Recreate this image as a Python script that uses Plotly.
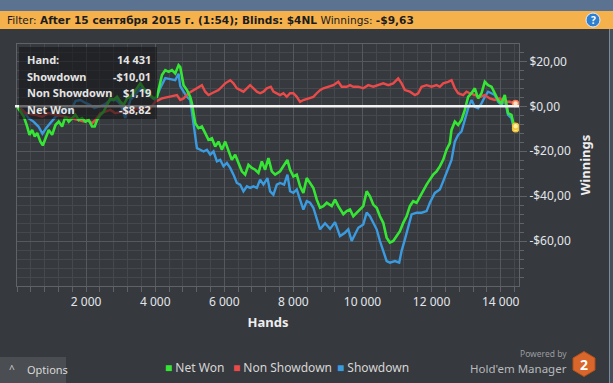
import plotly.graph_objects as go

# ---------------- data ----------------
net_hands = [0, 101, 197, 295, 361, 439, 514, 584, 679, 746, 824, 919, 1017, 1113, 1208, 1306, 1402, 1497,
             1595, 1691, 1786, 1884, 1980, 2075, 2173, 2248, 2318, 2413, 2509, 2607, 2702, 2798, 2896, 2991,
             3087, 3185, 3280, 3376, 3474, 3569, 3665, 3763, 3858, 3954, 4052, 4118, 4196, 4292, 4387, 4485,
             4581, 4676, 4725, 4821, 4919, 5014, 5063, 5110, 5159, 5254, 5352, 5448, 5543, 5641, 5737, 5832,
             5930, 6026, 6121, 6219, 6315, 6410, 6508, 6604, 6699, 6797, 6893, 6988, 7086, 7182, 7277, 7375,
             7471, 7615, 7711, 7826, 7904, 8000, 8098, 8193, 8289, 8387, 8482, 8578, 8676, 8771, 8867, 8965,
             9109, 9205, 9300, 9445, 9543, 9638, 9734, 9832, 9927, 10023, 10121, 10216, 10312, 10410, 10505,
             10601, 10699, 10794, 10890, 10988, 11083, 11179, 11277, 11372, 11468, 11566, 11661, 11757, 11855,
             11950, 12046, 12144, 12239, 12335, 12433, 12528, 12577, 12673, 12768, 12866, 12962, 13057, 13155,
             13251, 13346, 13444, 13540, 13635, 13733, 13829, 13924, 14022, 14118, 14213, 14311, 14378, 14431]
net_won = [0, -2.4, -4.6, -9.0, -12.7, -10.5, -13.4, -11.9, -15.7, -17.4, -14.2, -10.5, -12.7, -8.3, -6.8,
           -9.0, -4.6, -6.8, -5.3, -3.8, -6.1, -5.3, -6.8, -6.1, -9.0, -9.0, -6.1, -3.8, -2.4, 0.6, 3.5, 2.8,
           4.2, 2.0, 0.6, 3.5, 4.2, 5.8, 8.0, 10.2, 8.0, 6.5, 5.0, 3.5, 4.2, 8.7, 13.9, 16.1, 15.3, 16.1, 14.6,
           18.3, 17.4, 9.4, 7.2, 4.2, 1.3, -3.1, -7.5, -9.7, -9.0, -11.9, -14.9, -14.2, -17.9, -15.7, -19.3,
           -15.7, -19.3, -23.8, -21.5, -25.2, -28.9, -30.4, -26.0, -27.4, -28.2, -29.6, -24.5, -28.2, -23.0,
           -28.9, -30.4, -28.9, -26.7, -23.8, -28.2, -31.2, -30.4, -35.6, -38.5, -31.9, -34.1, -36.3, -41.5,
           -45.1, -44.4, -42.9, -44.4, -41.5, -44.4, -48.0, -46.6, -45.9, -48.9, -47.4, -45.9, -44.4, -37.8,
           -40.0, -43.7, -45.1, -48.9, -51.8, -58.4, -60.6, -59.9, -57.7, -55.5, -51.8, -48.9, -44.4, -42.2,
           -42.9, -40.0, -37.8, -34.8, -32.6, -30.4, -28.9, -26.7, -23.8, -19.3, -16.4, -10.5, -6.8, -8.3,
           -6.1, -1.6, 4.2, 5.8, 8.0, 3.5, 5.8, 10.9, 9.4, 8.7, 5.8, 2.8, 1.3, 5.0, -3.1, -3.8, -8.3, -8.82]

nsd_hands = [0, 246, 535, 728, 919, 1113, 1402, 1595, 1786, 1931, 2029, 2173, 2269, 2413, 2558, 2702, 2847,
             3040, 3231, 3425, 3569, 3714, 3858, 4003, 4196, 4341, 4485, 4630, 4725, 4821, 4965, 5110, 5254,
             5352, 5448, 5543, 5641, 5737, 5832, 5930, 6026, 6170, 6266, 6364, 6459, 6555, 6653, 6748, 6844,
             6942, 7037, 7133, 7231, 7346, 7422, 7520, 7615, 7711, 7809, 7904, 8000, 8098, 8193, 8289, 8433,
             8578, 8676, 8771, 8867, 9011, 9156, 9300, 9398, 9543, 9638, 9734, 9878, 10023, 10167, 10312,
             10456, 10601, 10745, 10890, 11034, 11132, 11228, 11372, 11517, 11612, 11710, 11855, 11999, 12144,
             12239, 12335, 12479, 12577, 12673, 12768, 12913, 13011, 13106, 13251, 13395, 13540, 13684, 13829,
             13973, 14118, 14262, 14431]
nsd_won = [0, -3.0, -3.8, -4.6, -3.0, -3.8, -4.6, -5.3, -6.1, -6.8, -6.1, -7.5, -6.1, -3.1, -2.4, -1.6, -3.1,
           -2.4, -3.1, -0.9, -1.6, -0.2, -0.9, 2.0, 3.5, 4.0, 4.2, 5.0, 2.8, 3.5, 5.8, 7.2, 8.7, 9.4, 6.5, 5.0,
           5.8, 6.5, 7.2, 8.7, 10.2, 11.6, 10.2, 8.0, 7.2, 6.5, 8.0, 9.4, 8.0, 6.5, 5.8, 6.5, 8.0, 8.7, 6.5,
           5.8, 5.0, 5.8, 4.2, 5.8, 5.8, 4.2, 2.0, 2.8, 3.5, 4.2, 5.8, 7.2, 8.0, 8.7, 9.4, 10.9, 8.7, 8.7, 9.4,
           8.7, 8.7, 8.0, 9.4, 8.7, 9.4, 10.2, 9.4, 10.2, 12.4, 10.2, 7.2, 6.5, 5.0, 5.8, 8.7, 9.4, 8.7, 9.4,
           8.7, 10.2, 10.9, 11.6, 8.0, 5.8, 5.0, 6.5, 5.8, 5.0, 4.2, 5.0, 3.5, 2.8, 3.5, 2.0, 2.0, 1.19]

sd_hands = [0, 159, 332, 477, 621, 737, 853, 968, 1113, 1257, 1402, 1546, 1691, 1835, 1980, 2124, 2240, 2413,
            2558, 2702, 2876, 2991, 3136, 3280, 3425, 3569, 3714, 3858, 4003, 4147, 4292, 4436, 4581, 4676,
            4725, 4821, 4919, 5014, 5063, 5110, 5159, 5208, 5304, 5399, 5497, 5592, 5688, 5786, 5881, 5977,
            6075, 6170, 6266, 6364, 6459, 6555, 6653, 6748, 6844, 6942, 7037, 7133, 7249, 7326, 7422, 7520,
            7615, 7731, 7827, 7904, 8000, 8098, 8193, 8289, 8387, 8482, 8578, 8676, 8771, 8916, 9060, 9205,
            9349, 9493, 9589, 9687, 9783, 9878, 10023, 10121, 10216, 10312, 10410, 10505, 10601, 10699, 10794,
            10939, 11063, 11132, 11228, 11323, 11421, 11566, 11710, 11855, 11950, 12095, 12239, 12335, 12433,
            12577, 12673, 12768, 12866, 12962, 13057, 13155, 13251, 13346, 13444, 13540, 13635, 13733, 13829,
            13924, 14022, 14118, 14213, 14311, 14378, 14431]
sd_won = [0, -1.6, -5.3, -6.8, -9.0, -12.2, -9.5, -7.5, -4.7, -3.0, -0.8, -2.5, 2.3, 2.8, 1.5, 0.6, -0.8, 0.1,
          1.0, 2.8, 2.8, 1.0, -5.2, 2.8, 5.0, 8.1, 6.3, 4.6, 2.8, 8.1, 12.5, 12.1, 11.6, 14.5, 9.0, 6.5, 4.2,
          2.8, -3.1, -9.0, -14.9, -18.6, -19.3, -20.1, -19.3, -21.5, -20.1, -24.5, -23.8, -26.7, -25.2, -27.4,
          -30.4, -34.1, -34.8, -37.8, -35.6, -36.3, -35.6, -36.3, -32.6, -34.8, -31.9, -37.8, -39.3, -34.8,
          -34.1, -34.8, -30.4, -37.8, -38.5, -37.0, -41.5, -45.9, -42.2, -42.9, -45.1, -50.3, -54.7, -52.0,
          -54.5, -51.5, -57.7, -56.2, -54.7, -59.9, -57.0, -54.0, -52.5, -47.3, -48.9, -51.8, -54.7, -59.9,
          -64.3, -68.8, -69.5, -68.8, -69.5, -64.3, -59.2, -53.3, -48.1, -47.3, -47.3, -46.6, -42.9, -38.5,
          -37.0, -33.4, -29.6, -23.8, -15.7, -12.7, -11.2, -6.1, -0.9, 2.8, -0.2, -0.9, 1.3, 4.2, 6.5, 5.8,
          5.0, 2.0, 0.6, 2.8, -3.8, -5.3, -9.7, -10.01]

series_names = ["Net Won", "Non Showdown", "Showdown"]
series_colors = ["#35e635", "#ea4a4a", "#3a9be0"]

x_tick_vals = [2000, 4000, 6000, 8000, 10000, 12000, 14000]
x_tick_text = ["2 000", "4 000", "6 000", "8 000", "10 000", "12 000", "14 000"]
y_tick_vals = [20, 0, -20, -40, -60]
y_tick_text = ["$20,00", "$0,00", "-$20,00", "-$40,00", "-$60,00"]

tip_labels = ["Hand:", "Showdown", "Non Showdown", "Net Won"]
tip_values = ["14 431", "-$10,01", "$1,19", "-$8,82"]

filter_text = "Filter: <b>After 15 сентября 2015 г. (1:54); Blinds: $4NL</b> Winnings: <b>-$9,63</b>"

# ---------------- layout geometry ----------------
W, H = 613, 383
ML, MR, MT, MB = 17, 94, 44, 97
PW, PH = W - ML - MR, H - MT - MB


def fx(p):
    return (p - ML) / PW


def fy(p):
    return (MT + PH - p) / PH


BG = "#36393d"
FONT = "Noto Sans"

fig = go.Figure()

fig.add_trace(go.Scatter(x=sd_hands, y=sd_won, mode="lines", name=series_names[2],
                         line=dict(color=series_colors[2], width=2.4), showlegend=False))
fig.add_trace(go.Scatter(x=nsd_hands, y=nsd_won, mode="lines", name=series_names[1],
                         line=dict(color=series_colors[1], width=2.4), showlegend=False))
fig.add_trace(go.Scatter(x=net_hands, y=net_won, mode="lines", name=series_names[0],
                         line=dict(color=series_colors[0], width=2.6), showlegend=False))
# end-point markers
fig.add_trace(go.Scatter(x=[sd_hands[-1], net_hands[-1]], y=[sd_won[-1], net_won[-1]], mode="markers",
                         marker=dict(size=6, color="#fff2a0", line=dict(color="#f2c23a", width=1.5)),
                         showlegend=False, hoverinfo="skip"))
fig.add_trace(go.Scatter(x=[nsd_hands[-1]], y=[nsd_won[-1]], mode="markers",
                         marker=dict(size=6, color="#ffe0c0", line=dict(color="#ff7a50", width=1.5)),
                         showlegend=False, hoverinfo="skip"))

shapes = []
# window title strip
shapes.append(dict(type="rect", xref="paper", yref="paper", x0=fx(0), x1=fx(W), y0=fy(0), y1=fy(11),
                   fillcolor="#5b7390", line=dict(width=0), layer="below"))
# orange filter bar
shapes.append(dict(type="rect", xref="paper", yref="paper", x0=fx(0), x1=fx(W), y0=fy(11), y1=fy(29),
                   fillcolor="#f5b14c", line=dict(width=0), layer="below"))
# help icon
shapes.append(dict(type="circle", xref="paper", yref="paper", x0=fx(586), x1=fx(600), y0=fy(13), y1=fy(27),
                   fillcolor="#2e7fcf", line=dict(color="#e8f0ff", width=1), layer="above"))
# zero line
shapes.append(dict(type="line", xref="paper", yref="y", x0=fx(15), x1=1, y0=0, y1=0,
                   line=dict(color="#f4f4f4", width=2.5), layer="above"))
# tooltip box
shapes.append(dict(type="rect", xref="paper", yref="paper", x0=fx(19), x1=fx(157), y0=fy(47), y1=fy(119),
                   fillcolor="rgba(22,22,24,0.62)", line=dict(width=0), layer="above"))
# options box
shapes.append(dict(type="rect", xref="paper", yref="paper", x0=fx(0), x1=fx(66), y0=fy(357), y1=fy(383),
                   fillcolor="#4a4d52", line=dict(width=0), layer="below"))
# right window edge
shapes.append(dict(type="rect", xref="paper", yref="paper", x0=fx(609.5), x1=fx(613), y0=fy(29), y1=fy(383),
                   fillcolor="#44505e", line=dict(width=0), layer="below"))
shapes.append(dict(type="line", xref="paper", yref="paper", x0=fx(609.5), x1=fx(609.5), y0=fy(29), y1=fy(383),
                   line=dict(color="#7d8a98", width=1), layer="below"))
# HM2 hexagon logo
hx, hy = 584, 364
hex_pts = [(hx - 11, hy - 6), (hx, hy - 12.5), (hx + 11, hy - 6), (hx + 11, hy + 6), (hx, hy + 12.5),
           (hx - 11, hy + 6)]
path = "M " + " L ".join(f"{fx(a):.5f},{fy(b):.5f}" for a, b in hex_pts) + " Z"
shapes.append(dict(type="path", xref="paper", yref="paper", path=path, fillcolor="#d9662a",
                   line=dict(color="#b04f1c", width=1), layer="above"))

ann = []
ann.append(dict(x=fx(5), y=fy(20), xref="paper", yref="paper", xanchor="left", yanchor="middle",
                text=filter_text, showarrow=False, font=dict(family="DejaVu Sans", size=10.6, color="#1c1c1c")))
ann.append(dict(x=fx(593), y=fy(20), xref="paper", yref="paper", xanchor="center", yanchor="middle",
                text="<b>?</b>", showarrow=False, font=dict(family=FONT, size=10, color="#ffffff")))
tip_rows = [59, 76, 92.5, 109]
for lab, val, ry in zip(tip_labels, tip_values, tip_rows):
    ann.append(dict(x=fx(25), y=fy(ry), xref="paper", yref="paper", xanchor="left", yanchor="middle",
                    text=f"<b>{lab}</b>", showarrow=False, font=dict(family=FONT, size=11, color="#e4e4e4")))
    ann.append(dict(x=fx(153), y=fy(ry), xref="paper", yref="paper", xanchor="right", yanchor="middle",
                    text=f"<b>{val}</b>", showarrow=False, font=dict(family=FONT, size=11, color="#e4e4e4")))
# legend (manual)
leg_x = [163, 231, 335]
for name, col, lx in zip(series_names, series_colors, leg_x):
    ann.append(dict(x=fx(lx), y=fy(367), xref="paper", yref="paper", xanchor="left", yanchor="middle",
                    text=f"<span style='color:{col}'>■</span> {name}", showarrow=False,
                    font=dict(family=FONT, size=12, color="#d6d6d6")))
# options
ann.append(dict(x=fx(12), y=fy(369), xref="paper", yref="paper", xanchor="center", yanchor="middle",
                text="^", showarrow=False, font=dict(family=FONT, size=10, color="#d0d0d0")))
ann.append(dict(x=fx(25), y=fy(369), xref="paper", yref="paper", xanchor="left", yanchor="middle",
                text="Options", showarrow=False, font=dict(family=FONT, size=11, color="#d8d8d8")))
# powered by
ann.append(dict(x=fx(569), y=fy(353), xref="paper", yref="paper", xanchor="right", yanchor="middle",
                text="Powered by", showarrow=False, font=dict(family=FONT, size=8.5, color="#9a9ca0")))
ann.append(dict(x=fx(569), y=fy(368), xref="paper", yref="paper", xanchor="right", yanchor="middle",
                text="Hold'em Manager", showarrow=False, font=dict(family=FONT, size=11.5, color="#b8babe")))
ann.append(dict(x=fx(584), y=fy(364), xref="paper", yref="paper", xanchor="center", yanchor="middle",
                text="<b>2</b>", showarrow=False, font=dict(family=FONT, size=14, color="#ffffff")))

fig.update_layout(
    width=W, height=H,
    margin=dict(l=ML, r=MR, t=MT, b=MB, pad=0),
    paper_bgcolor=BG, plot_bgcolor=BG,
    showlegend=False,
    shapes=shapes, annotations=ann,
    font=dict(family=FONT, color="#e2e6ec"),
)
fig.update_xaxes(
    range=[0, 14530], tickmode="array", tickvals=x_tick_vals, ticktext=x_tick_text,
    ticks="outside", ticklen=5, tickcolor="#5f6266", tickfont=dict(size=12, color="#e2e6ec"),
    showgrid=True, gridcolor="#55585c", gridwidth=1, zeroline=False,
    showline=True, linecolor="#5f6266", linewidth=1, mirror=True,
    minor=dict(tick0=0, dtick=400, showgrid=True, gridcolor="#45484c", ticks="outside", ticklen=5,
               tickcolor="#5f6266"),
    title=dict(text="<b>Hands</b>", font=dict(size=13, color="#eeeeee"), standoff=8),
)
fig.update_yaxes(
    side="right", range=[-79.9, 27.7], tickmode="array", tickvals=y_tick_vals, ticktext=y_tick_text,
    ticks="outside", ticklen=7, tickcolor="#5f6266", tickfont=dict(size=12, color="#e2e6ec"),
    showgrid=True, gridcolor="#55585c", gridwidth=1, zeroline=False,
    showline=True, linecolor="#5f6266", linewidth=1, mirror=True,
    minor=dict(tick0=0, dtick=4, showgrid=True, gridcolor="#45484c", ticks="outside", ticklen=4,
               tickcolor="#5f6266"),
    title=dict(text="<b>Winnings</b>", font=dict(size=13, color="#eeeeee"), standoff=10),
)

fig.write_html("out.html", config={"displayModeBar": False},
               post_script="document.body.style.margin='0';document.body.style.background='#36393d';")
